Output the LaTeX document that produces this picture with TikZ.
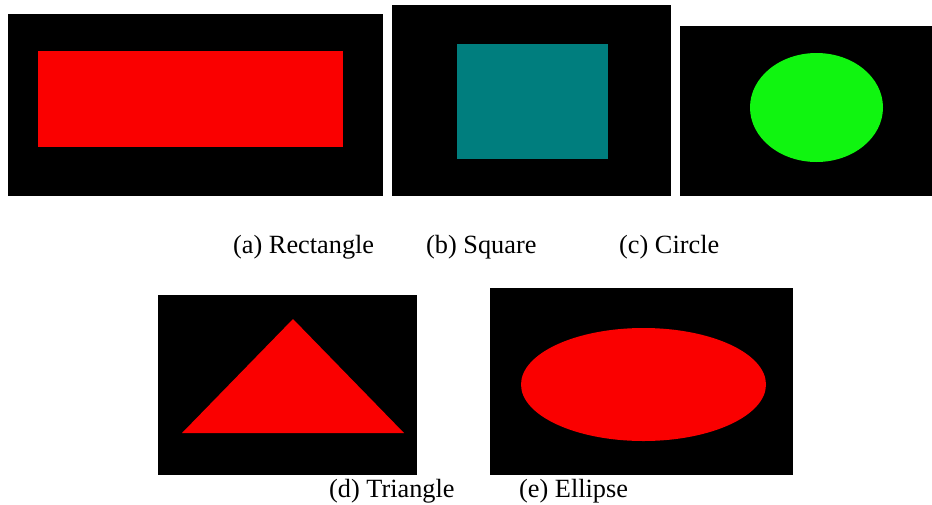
\documentclass[tikz,border=0pt]{standalone}
\usepackage{fontspec}
\setmainfont{Liberation Serif}
\definecolor{shapered}{RGB}{250,0,0}
\definecolor{shapeteal}{RGB}{0,126,126}
\definecolor{shapegreen}{RGB}{16,245,16}

\begin{document}
\begin{tikzpicture}[x=1pt,y=-1pt,panel/.style={fill=black},sublabel/.style={anchor=base west,inner sep=0pt,font=\fontsize{26.3}{31}\selectfont}]
\useasboundingbox (0,0) rectangle (932,504);

% top row
\fill[panel] (8,14) rectangle (383,196);
\fill[shapered] (38,51) rectangle (343,147);
\fill[panel] (392,5) rectangle (671,196);
\fill[shapeteal] (457,44) rectangle (608,159);
\fill[panel] (680,26) rectangle (932,196);
\fill[shapegreen] (816.5,107.5) ellipse [x radius=66.5pt,y radius=54.5pt];

% bottom row
\fill[panel] (158,295) rectangle (417,475);
\fill[shapered] (293,319) -- (404,433) -- (182,433) -- cycle;
\fill[panel] (490,288) rectangle (793,475);
\fill[shapered] (643.5,384.5) ellipse [x radius=122.5pt,y radius=56.5pt];

\node[sublabel] (laba) at (233,253) {(a) Rectangle};
\node[sublabel] (labb) at (426,253) {(b) Square};
\node[sublabel] (labc) at (619,253) {(c) Circle};
\node[sublabel] (labd) at (329,497) {(d) Triangle};
\node[sublabel] (labe) at (519,497) {(e) Ellipse};
\end{tikzpicture}
\end{document}
